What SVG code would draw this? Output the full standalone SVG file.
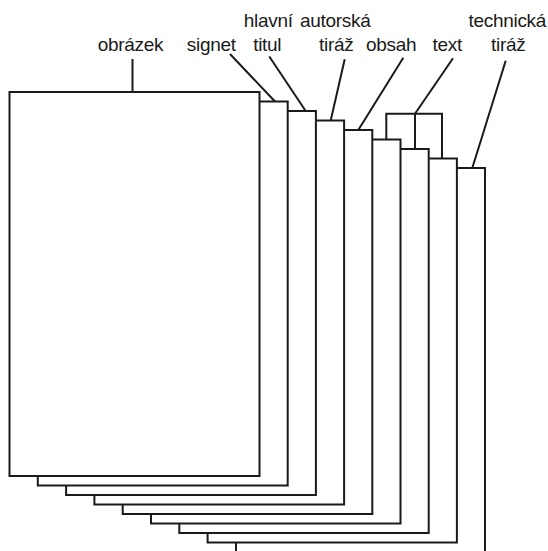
<svg xmlns="http://www.w3.org/2000/svg" width="548" height="551" viewBox="0 0 548 551">
<style>
.page{fill:#fff;stroke:#1a1a1a;stroke-width:2}
.ln{fill:none;stroke:#1a1a1a;stroke-width:2}
.lbl{font-family:"Liberation Sans",Arial,sans-serif;font-size:19px;letter-spacing:-0.3px;fill:#1a1a1a;text-anchor:middle}
</style>
<rect width="548" height="551" fill="#fff"/>
<g id="pages">
<g id="page9"><rect class="page" x="236" y="168" width="249" height="384"/></g>
<g id="page8"><rect class="page" x="207.6" y="158.5" width="249.3" height="384"/></g>
<g id="page7"><rect class="page" x="179.3" y="149" width="249.4" height="384"/></g>
<g id="page6"><rect class="page" x="151" y="139.5" width="249.5" height="384"/></g>
<g id="page5"><rect class="page" x="122.7" y="130" width="249.6" height="384"/></g>
<g id="page4"><rect class="page" x="94.4" y="120.5" width="249.7" height="384"/></g>
<g id="page3"><rect class="page" x="66.1" y="111" width="249.8" height="384"/></g>
<g id="page2"><rect class="page" x="37.8" y="101.5" width="249.9" height="384"/></g>
<g id="page1"><rect class="page" x="9.5" y="92" width="250" height="384"/></g>
</g>
<g id="connectors">
<line class="ln" x1="132.5" y1="59" x2="132.5" y2="92"/>
<line class="ln" x1="230" y1="54" x2="275" y2="101.5"/>
<line class="ln" x1="269.3" y1="56.5" x2="305.7" y2="111"/>
<line class="ln" x1="344.7" y1="59.3" x2="330.7" y2="120.5"/>
<line class="ln" x1="403.3" y1="57.7" x2="358.3" y2="130"/>
<line class="ln" x1="453" y1="58.3" x2="415" y2="113.7"/>
<line class="ln" x1="505.7" y1="60.7" x2="472.3" y2="168"/>
<path class="ln" d="M386.3 139.5 V113.7 H442 V158.5 M415 113.7 V149"/>
</g>
<g id="labels">
<text class="lbl" x="130.5" y="51">obrázek</text>
<text class="lbl" x="211.3" y="51">signet</text>
<text class="lbl" x="268.3" y="27">hlavní</text>
<text class="lbl" x="267.2" y="51">titul</text>
<text class="lbl" x="335.3" y="27">autorská</text>
<text class="lbl" x="336.2" y="51">tiráž</text>
<text class="lbl" x="391.2" y="51">obsah</text>
<text class="lbl" x="447.2" y="51">text</text>
<text class="lbl" x="507.3" y="27">technická</text>
<text class="lbl" x="508.2" y="51">tiráž</text>
</g>
</svg>
